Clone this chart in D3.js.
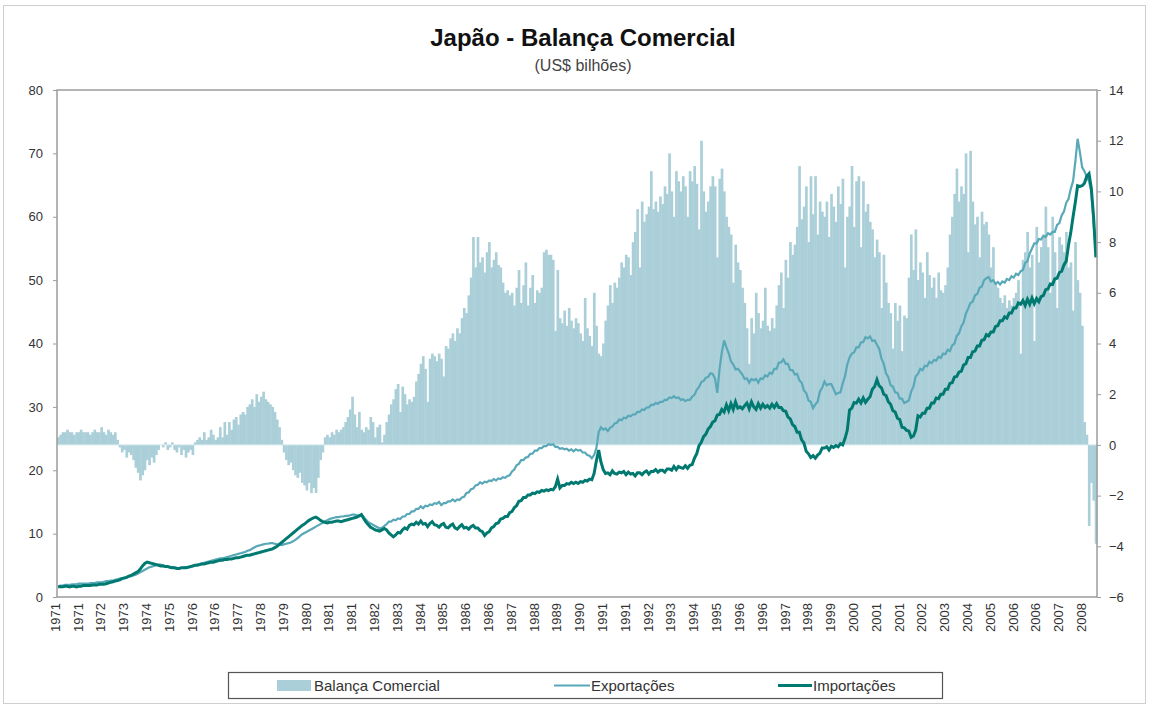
<!DOCTYPE html>
<html>
<head>
<meta charset="utf-8">
<script src="https://cdn.jsdelivr.net/npm/d3@7"></script>
<style>
  body { margin: 0; background: #fff; }
  text { font-family: "Liberation Sans", Arial, sans-serif; }
</style>
</head>
<body>
<svg id="chart" width="1149" height="708"></svg>
<script>
// monthly series, Jan 1971 .. Dec 2008 (one row per year)
const balanca = [
  0.3,0.4,0.5,0.5,0.6,0.5,0.5,0.4,0.5,0.5,0.6,0.5,
  0.5,0.5,0.4,0.5,0.6,0.5,0.5,0.7,0.5,0.4,0.6,0.5,
  0.4,0.5,0.2,-0.1,-0.3,-0.2,-0.5,-0.3,-0.4,-0.6,-0.9,-1.1,
  -1.4,-1.2,-1.0,-0.6,-0.8,-0.5,-0.7,-0.4,-0.2,0.0,-0.1,0.1,
  -0.2,-0.1,0.1,-0.2,-0.3,-0.1,-0.4,-0.2,-0.5,-0.3,-0.2,-0.4,
  0.1,0.2,0.3,0.2,0.5,0.2,0.3,0.6,0.4,0.2,0.3,0.7,
  0.3,0.9,0.4,0.9,0.6,1.0,1.1,0.8,1.2,1.3,1.2,1.5,
  1.6,1.8,1.5,2.0,1.7,1.9,2.1,1.8,1.7,1.6,1.5,1.3,
  1.0,0.7,0.2,-0.3,-0.6,-0.8,-0.7,-1.0,-1.2,-1.3,-1.1,-1.5,
  -1.6,-1.8,-1.5,-1.9,-1.7,-1.9,-1.3,-0.6,-0.3,0.3,0.4,0.3,
  0.5,0.4,0.6,0.5,0.6,0.7,0.9,1.1,1.4,1.9,1.2,0.7,
  1.3,0.6,0.5,0.7,0.6,1.1,0.9,0.3,0.7,0.8,0.1,0.4,
  0.9,1.2,1.6,1.8,2.2,2.4,1.3,2.3,2.0,1.6,1.8,1.7,
  1.9,2.5,2.8,3.2,3.5,3.0,1.7,3.4,3.6,3.5,3.3,3.6,
  3.4,2.7,3.9,3.8,4.2,4.4,4.1,4.6,4.4,5.0,5.4,5.2,
  5.9,6.6,8.2,7.0,8.2,7.2,7.4,6.8,7.6,8.0,7.0,7.3,
  7.6,7.1,7.0,6.4,6.0,6.1,5.9,6.0,5.5,6.2,6.9,5.6,
  6.3,7.2,5.5,6.2,6.7,5.6,6.1,6.0,6.2,7.6,7.7,7.5,
  7.5,7.3,4.5,6.9,5.0,4.8,5.3,4.7,5.4,4.9,4.6,5.0,
  4.8,4.4,4.1,5.8,4.6,4.3,3.9,6.0,4.7,3.6,3.5,4.0,
  4.9,5.5,6.3,5.6,6.4,6.2,6.6,7.2,7.0,7.5,7.4,6.7,
  8.0,8.4,9.3,7.0,9.6,8.8,9.1,9.4,10.8,9.3,9.6,9.2,
  9.8,9.5,10.2,9.9,11.5,10.0,9.0,10.8,10.4,10.0,10.6,10.2,
  9.0,10.8,10.4,11.0,10.3,8.5,12.0,10.0,9.2,9.6,10.2,10.6,
  10.2,7.4,10.5,10.9,10.0,9.0,8.6,8.3,6.4,7.9,7.2,6.9,
  6.2,5.6,4.6,3.2,5.0,4.4,6.0,5.2,4.6,4.9,6.2,4.7,
  4.5,5.0,4.6,5.5,6.3,6.8,5.4,7.3,6.6,8.0,7.5,7.9,
  8.6,11.0,8.9,9.4,10.2,8.0,10.6,9.1,10.6,8.3,9.6,9.2,
  9.0,9.6,8.2,9.9,9.4,8.8,10.2,9.5,10.5,7.0,9.0,9.4,
  11.0,8.6,10.4,10.6,7.8,10.4,9.2,9.5,8.8,8.5,7.4,8.1,
  7.6,5.4,7.5,6.4,5.6,5.2,3.8,5.6,4.9,5.5,3.7,5.1,
  5.0,6.6,8.3,6.9,8.5,6.5,7.2,6.8,5.8,7.6,6.7,6.2,
  6.6,5.8,6.8,6.1,6.0,6.3,7.0,8.3,9.0,9.9,10.9,9.6,
  10.2,9.9,11.5,7.6,11.6,9.6,8.7,9.0,7.4,9.2,8.7,8.8,
  8.3,7.0,7.8,6.4,6.2,5.8,5.6,5.9,5.4,5.7,5.5,5.8,
  6.0,6.5,3.6,7.3,7.6,8.4,7.0,7.5,4.1,8.6,7.2,7.8,
  8.2,9.4,7.8,6.0,9.0,7.6,5.4,8.2,7.9,7.6,8.4,7.0,
  7.2,5.3,8.0,6.5,6.0,4.7,0.9,0.4,-3.2,-1.5,-2.2,-3.9
];

const exportacoes = [
  1.7,1.8,1.8,1.9,1.9,1.9,2.0,2.0,2.0,2.1,2.1,2.1,
  2.1,2.1,2.2,2.2,2.2,2.3,2.3,2.3,2.4,2.5,2.5,2.6,
  2.6,2.7,2.8,2.9,3.0,3.0,3.1,3.2,3.3,3.4,3.5,3.7,
  3.9,4.1,4.3,4.5,4.7,4.8,4.9,5.0,5.1,5.1,5.0,4.9,
  4.8,4.7,4.7,4.6,4.6,4.5,4.6,4.6,4.7,4.7,4.8,4.9,
  5.0,5.1,5.2,5.3,5.4,5.5,5.6,5.7,5.8,5.9,6.0,6.1,
  6.1,6.2,6.3,6.4,6.5,6.6,6.7,6.8,6.9,7.0,7.1,7.3,
  7.4,7.6,7.8,8.0,8.1,8.2,8.3,8.4,8.4,8.5,8.5,8.4,
  8.3,8.3,8.2,8.3,8.4,8.5,8.6,8.8,9.0,9.3,9.6,9.9,
  10.1,10.3,10.5,10.7,10.9,11.1,11.3,11.5,11.7,11.9,12.1,12.3,
  12.4,12.5,12.6,12.6,12.7,12.7,12.8,12.8,12.9,13.0,13.0,12.9,
  12.8,13.0,12.6,12.2,11.8,11.6,11.4,11.2,11.0,10.8,10.9,11.2,
  11.5,11.9,11.9,12.2,12.1,12.4,12.3,12.7,12.7,13.1,13.1,13.5,
  13.5,13.9,13.9,14.3,14.0,14.4,14.3,14.6,14.5,14.8,14.7,15.0,
  14.5,14.8,14.8,15.1,15.1,15.4,15.1,15.4,15.3,15.7,15.8,16.4,
  16.5,17.0,17.1,17.6,17.7,18.1,17.9,18.2,18.1,18.4,18.3,18.6,
  18.4,18.7,18.6,18.9,18.8,19.1,19.2,19.8,20.1,20.8,21.0,21.6,
  21.6,22.0,22.1,22.6,22.6,23.1,23.1,23.5,23.5,23.8,23.8,24.1,
  24.0,24.1,23.7,23.7,23.4,23.5,23.3,23.4,23.1,23.3,23.0,23.3,
  23.1,23.2,22.8,22.8,22.4,22.3,21.9,22.4,23.5,26.0,26.8,26.4,
  26.6,26.2,26.7,26.9,27.4,27.5,28.0,27.9,28.3,28.2,28.6,28.5,
  28.8,28.8,29.2,29.2,29.6,29.5,29.9,29.9,30.3,30.3,30.6,30.5,
  30.8,30.8,31.1,31.1,31.5,31.4,31.7,31.4,31.5,31.1,31.2,30.9,
  31.1,31.1,31.6,31.9,32.7,33.1,33.9,34.1,34.6,34.7,35.3,35.2,
  34.5,32.2,36.0,38.6,40.5,39.4,38.5,37.2,36.7,35.9,36.0,35.6,
  35.1,34.4,34.5,33.8,34.4,34.2,34.4,33.8,34.5,34.4,35.0,34.8,
  35.4,35.2,36.0,36.0,37.0,37.0,37.5,36.8,36.8,35.8,35.8,35.1,
  35.2,34.2,33.8,32.6,32.2,31.0,30.8,29.8,30.4,30.8,32.4,33.0,
  34.0,33.4,33.6,33.6,32.8,32.0,32.2,32.3,33.7,34.8,36.7,37.8,
  38.4,38.6,39.4,39.4,40.2,40.2,41.0,40.8,41.1,40.4,40.5,39.8,
  39.2,37.6,36.8,35.3,34.7,33.4,33.2,32.3,32.2,31.3,31.3,30.6,
  30.8,31.0,32.4,33.2,34.8,35.2,36.0,35.8,36.5,36.4,37.1,36.9,
  37.4,37.3,37.9,37.7,38.4,38.3,39.0,38.8,39.7,40.0,41.2,41.6,
  42.7,43.3,44.7,45.5,46.4,46.6,47.6,47.8,48.8,49.0,50.0,50.3,
  50.5,49.8,50.0,49.4,49.7,49.3,49.8,49.6,50.2,50.0,50.6,50.4,
  51.0,50.8,51.4,51.6,52.7,53.0,54.2,55.0,55.8,55.8,56.5,56.4,
  57.0,56.8,57.4,57.2,57.6,57.6,58.7,59.0,60.2,60.8,62.2,62.8,
  64.4,65.6,68.7,72.3,70.2,67.8,67.2,66.3,65.6,64.0,59.0,54.5
];

const importacoes = [
  1.6,1.6,1.6,1.7,1.7,1.6,1.7,1.7,1.6,1.7,1.7,1.8,
  1.8,1.8,1.8,1.9,1.9,1.9,2.0,2.0,2.0,2.1,2.2,2.3,
  2.4,2.5,2.6,2.7,2.9,3.0,3.1,3.3,3.4,3.6,3.8,4.0,
  4.4,4.9,5.3,5.5,5.4,5.3,5.2,5.1,5.0,4.9,4.9,4.8,
  4.8,4.7,4.6,4.6,4.5,4.5,4.6,4.6,4.6,4.7,4.8,4.9,
  5.0,5.0,5.1,5.2,5.2,5.3,5.4,5.5,5.5,5.6,5.7,5.8,
  5.8,5.9,5.9,6.0,6.0,6.1,6.2,6.2,6.3,6.4,6.5,6.6,
  6.6,6.7,6.8,6.9,7.0,7.1,7.2,7.3,7.4,7.5,7.6,7.8,
  8.0,8.3,8.6,8.9,9.2,9.5,9.8,10.1,10.4,10.7,11.0,11.3,
  11.5,11.8,12.1,12.3,12.5,12.6,12.4,12.1,11.9,11.8,11.7,11.8,
  11.8,11.9,12.0,12.0,11.9,12.0,12.1,12.2,12.3,12.4,12.5,12.6,
  12.8,13.0,12.4,11.8,11.4,11.0,10.8,10.6,10.5,10.4,10.6,10.8,
  10.6,10.1,9.8,9.5,9.8,10.2,10.1,10.6,10.9,10.7,11.3,11.5,
  11.4,11.8,11.5,12.0,11.5,11.6,11.1,11.6,11.9,11.4,11.3,11.0,
  11.4,11.6,11.0,10.9,11.3,11.5,10.9,10.7,11.1,11.4,10.9,11.0,
  10.7,11.1,11.3,10.9,10.9,10.5,10.3,9.7,10.1,10.3,10.9,11.1,
  11.6,11.7,12.3,12.4,12.7,12.7,13.3,13.5,14.1,14.4,15.1,15.2,
  15.7,15.7,16.1,16.1,16.4,16.3,16.6,16.5,16.8,16.7,16.9,16.8,
  17.0,16.9,17.4,18.6,17.2,17.6,17.6,17.9,17.8,18.1,17.9,18.1,
  17.9,18.2,18.1,18.4,18.3,18.6,18.5,19.5,21.5,23.2,21.3,20.1,
  19.5,19.6,19.3,19.9,19.5,19.4,19.7,19.6,19.8,19.3,19.7,19.4,
  19.5,19.1,19.6,19.6,19.3,19.7,19.9,19.4,19.8,19.8,20.1,19.7,
  20.0,20.0,19.7,20.2,20.2,20.0,20.6,20.1,20.6,20.4,20.3,20.7,
  20.3,20.8,20.9,21.9,22.6,23.9,24.4,25.3,25.7,26.5,26.9,27.6,
  27.8,28.7,28.8,29.6,29.2,30.3,29.4,30.5,29.6,30.8,29.8,30.0,
  29.7,30.2,30.6,29.7,30.8,30.0,29.6,30.5,29.8,30.4,29.9,30.2,
  29.8,30.4,29.9,30.5,29.9,29.9,29.4,29.3,28.4,28.1,27.2,26.9,
  26.0,26.0,24.8,24.3,23.0,22.6,22.0,22.3,21.9,22.4,22.7,23.5,
  23.5,23.7,23.2,23.8,23.6,23.9,23.7,24.2,24.0,25.0,26.3,29.5,
  29.8,30.7,30.6,31.2,30.6,31.4,30.7,31.2,31.6,32.8,33.2,34.3,
  33.3,33.0,32.0,31.8,30.8,30.4,29.4,29.2,28.2,28.0,26.8,26.7,
  26.3,26.2,25.2,25.4,26.3,28.6,28.4,29.0,29.0,29.8,29.8,30.6,
  30.6,31.4,31.3,32.0,32.0,32.8,32.8,33.7,33.8,34.7,34.8,35.5,
  35.6,36.6,36.8,37.8,37.8,38.7,38.8,39.6,39.6,40.5,40.6,41.4,
  41.2,41.8,41.8,42.7,42.8,43.6,43.6,44.2,44.0,44.8,44.8,45.6,
  45.6,46.4,46.2,46.8,46.0,47.0,46.2,47.2,46.3,47.1,46.6,47.4,
  47.6,48.5,48.6,49.4,49.3,50.2,50.3,51.2,51.4,52.4,53.0,55.5,
  57.5,60.0,62.3,64.9,64.8,64.9,65.3,66.4,66.8,64.5,60.0,53.6
];

// category labels shown every 10 months, as printed on the axis
const rotulosX = [
  1971,1971,1972,1973,1974,1975,1976,1976,1977,1978,1979,1980,1981,1981,1982,1983,
  1984,1985,1986,1986,1987,1988,1989,1990,1991,1991,1992,1993,1994,1995,1996,1996,
  1997,1998,1999,2000,2001,2001,2002,2003,2004,2005,2006,2006,2007,2008
];
const ticksEsq = [0, 10, 20, 30, 40, 50, 60, 70, 80];
const ticksDir = [-6, -4, -2, 0, 2, 4, 6, 8, 10, 12, 14];

const corBarra = "#abcfd8";
const corExp = "#58a8b8";
const corImp = "#007a70";

const svg = d3.select("#chart");
const plot = { left: 57, right: 1097, top: 90, bottom: 597 };

// outer frame
svg.append("rect")
  .attr("x", 3.5).attr("y", 5.5).attr("width", 1142).attr("height", 698)
  .attr("fill", "#fff").attr("stroke", "#cfcfcf");

svg.append("text")
  .attr("x", 583).attr("y", 46)
  .attr("text-anchor", "middle")
  .attr("font-size", "24px").attr("font-weight", "bold").attr("fill", "#111")
  .text("Japão - Balança Comercial");
svg.append("text")
  .attr("x", 583).attr("y", 71)
  .attr("text-anchor", "middle")
  .attr("font-size", "16px").attr("fill", "#444")
  .text("(US$ bilhões)");

const meses = d3.range(balanca.length);
const x = d3.scaleBand().domain(meses).range([plot.left, plot.right]);
const yEsq = d3.scaleLinear().domain([0, 80]).range([plot.bottom, plot.top]);
const yDir = d3.scaleLinear().domain([-6, 14]).range([plot.bottom, plot.top]);
const bw = x.bandwidth();

// bars (right axis)
svg.append("g").selectAll("rect")
  .data(meses)
  .enter()
  .append("rect")
  .attr("x", i => x(i))
  .attr("width", bw + 0.4)
  .attr("y", i => yDir(Math.max(0, balanca[i])))
  .attr("height", i => Math.abs(yDir(balanca[i]) - yDir(0)))
  .attr("fill", corBarra);

svg.append("line")
  .attr("x1", plot.left).attr("x2", plot.right)
  .attr("y1", yDir(0)).attr("y2", yDir(0))
  .attr("stroke", "#d4e8ec").attr("stroke-width", 1);

const linha = serie => d3.line()
  .x(i => x(i) + bw / 2)
  .y(i => yEsq(serie[i]));

svg.append("path")
  .attr("d", linha(exportacoes)(meses))
  .attr("fill", "none").attr("stroke", corExp).attr("stroke-width", 2.2);
svg.append("path")
  .attr("d", linha(importacoes)(meses))
  .attr("fill", "none").attr("stroke", corImp).attr("stroke-width", 3);

// plot frame
svg.append("rect")
  .attr("x", plot.left).attr("y", plot.top)
  .attr("width", plot.right - plot.left).attr("height", plot.bottom - plot.top)
  .attr("fill", "none").attr("stroke", "#9c9c9c").attr("stroke-width", 1.5);

// axes
const eixoEsq = svg.append("g")
  .attr("transform", `translate(${plot.left},0)`)
  .call(d3.axisLeft(yEsq).tickValues(ticksEsq).tickSize(4).tickPadding(10));
const eixoDir = svg.append("g")
  .attr("transform", `translate(${plot.right},0)`)
  .call(d3.axisRight(yDir).tickValues(ticksDir).tickSize(4).tickPadding(8));
[eixoEsq, eixoDir].forEach(g => {
  g.select(".domain").remove();
  g.selectAll("line").attr("stroke", "#9c9c9c");
  g.selectAll("text").attr("font-size", "13px").attr("fill", "#333")
    .attr("font-family", "Liberation Sans, Arial, sans-serif");
});

svg.append("g").selectAll("text")
  .data(rotulosX)
  .enter()
  .append("text")
  .attr("transform", (d, i) => `translate(${x(i * 10) + bw / 2 - 3},603) rotate(-90)`)
  .attr("text-anchor", "end")
  .attr("dy", "0.35em")
  .attr("font-size", "13px").attr("fill", "#333")
  .text(d => d);

// legend
const leg = svg.append("g");
leg.append("rect")
  .attr("x", 228.5).attr("y", 672.5).attr("width", 714).attr("height", 26)
  .attr("fill", "#fff").attr("stroke", "#555").attr("stroke-width", 1.2);
leg.append("rect")
  .attr("x", 277).attr("y", 680).attr("width", 34).attr("height", 11)
  .attr("fill", corBarra);
leg.append("text").attr("x", 314).attr("y", 691)
  .attr("font-size", "15px").attr("fill", "#333").text("Balança Comercial");
leg.append("line")
  .attr("x1", 554).attr("x2", 590).attr("y1", 685.5).attr("y2", 685.5)
  .attr("stroke", corExp).attr("stroke-width", 2.2);
leg.append("text").attr("x", 591).attr("y", 691)
  .attr("font-size", "15px").attr("fill", "#333").text("Exportações");
leg.append("line")
  .attr("x1", 778).attr("x2", 812).attr("y1", 685.5).attr("y2", 685.5)
  .attr("stroke", corImp).attr("stroke-width", 3);
leg.append("text").attr("x", 813).attr("y", 691)
  .attr("font-size", "15px").attr("fill", "#333").text("Importações");
</script>
</body>
</html>
